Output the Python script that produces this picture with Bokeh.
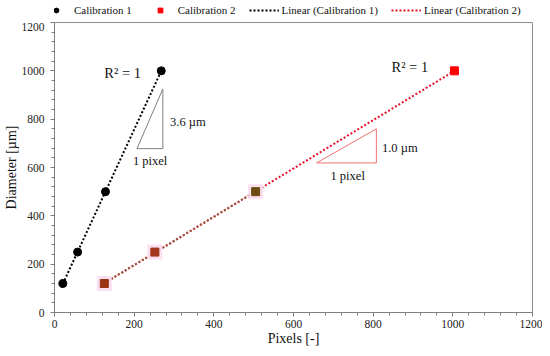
import numpy as np
from bokeh.plotting import figure
from bokeh.layouts import column
from bokeh.models import Range1d, Legend, LegendItem, FixedTicker, ColumnDataSource
from bokeh.core.properties import value
from bokeh.embed import file_html
from bokeh.resources import INLINE

# ---- data ----
cal1_px = [21, 58, 128, 268]
cal1_d = [120, 250, 500, 1000]
cal2_px = [125, 252, 505, 1004]
cal2_d = [120, 250, 500, 1000]
cal2_colors = ["#9A3414", "#A3361C", "#6E4B12", "#FF0000"]

x_ticks = [0, 200, 400, 600, 800, 1000, 1200]
y_ticks = [0, 200, 400, 600, 800, 1000, 1200]

tri1_x = [207, 272, 272]
tri1_y = [678, 925, 678]
tri2_x = [658, 808, 808]
tri2_y = [619, 760, 619]

series_names = ["Calibration 1", "Calibration 2", "Linear (Calibration 1)", "Linear (Calibration 2)"]

FONT = "Liberation Serif"

p = figure(width=542, height=326, output_backend="svg",
           toolbar_location=None, x_range=Range1d(0, 1200), y_range=Range1d(0, 1200),
           min_border_left=53, min_border_right=10, min_border_top=0, min_border_bottom=35)
p.outline_line_color = "#8c8c8c"
p.outline_line_width = 1
p.grid.visible = False
p.background_fill_color = "white"

for ax, tk in ((p.xaxis[0], x_ticks), (p.yaxis[0], y_ticks)):
    ax.ticker = FixedTicker(ticks=tk, minor_ticks=list(np.arange(0, 1201, 40)))
    ax.axis_line_color = "#7f7f7f"
    ax.major_tick_line_color = "#7f7f7f"
    ax.minor_tick_line_color = "#7f7f7f"
    ax.major_tick_in = 0
    ax.major_tick_out = 4
    ax.minor_tick_in = 0
    ax.minor_tick_out = 3
    ax.major_label_text_font = FONT
    ax.major_label_text_font_size = "11.5px"
    ax.major_label_text_color = "#222222"
    ax.axis_label_text_font = FONT
    ax.axis_label_text_font_style = "normal"
    ax.axis_label_text_font_size = "14px"
    ax.axis_label_text_color = "#111111"

p.xaxis.axis_label = "Pixels [-]"
p.yaxis.axis_label = "Diameter [µm]"
p.xaxis.major_label_standoff = 3
p.yaxis.major_label_standoff = 6
p.xaxis.axis_label_standoff = 0
p.yaxis.axis_label_standoff = 0

# trendlines from a linear fit of the data
k1, b1 = np.polyfit(cal1_px, cal1_d, 1)
k2, b2 = np.polyfit(cal2_px, cal2_d, 1)
t1x = [min(cal1_px), max(cal1_px)]
t2x = [min(cal2_px), max(cal2_px)]
p.line(t1x, [k1 * v + b1 for v in t1x], line_color="black", line_width=2, line_dash="2 2")
p.line(t2x, [k2 * v + b2 for v in t2x], line_color="#E8102A", line_width=2, line_dash="2 2")
seg = [cal2_px[0], cal2_px[2]]
p.line(seg, [k2 * v + b2 for v in seg], line_color="#9A5A40", line_width=2, line_dash="2 2")

# pink halos behind calibration 2 points
p.scatter(cal2_px[:3], cal2_d[:3], marker="square", size=15, fill_color="#FBDDF0",
          line_color=None, fill_alpha=0.9)
p.scatter(cal1_px, cal1_d, marker="circle", size=8, fill_color="black", line_color="black")
src2 = ColumnDataSource(dict(x=cal2_px, y=cal2_d, c=cal2_colors))
p.scatter("x", "y", source=src2, marker="square", size=8, fill_color="c", line_color="c")

# triangles
p.patch(tri1_x + [tri1_x[0]], tri1_y + [tri1_y[0]], fill_color=None, line_color="#7f7f7f", line_width=1)
p.patch(tri2_x + [tri2_x[0]], tri2_y + [tri2_y[0]], fill_color=None, line_color="#F07070", line_width=1)

p.text(x=[171, 892], y=[990, 1017], text=["R² = 1", "R² = 1"], text_font=value(FONT),
       text_font_size="14.5px", text_color="#111111", text_align="center", text_baseline="middle")
p.text(x=[290, 822], y=[787, 681], text=["3.6 µm", "1.0 µm"], text_font=value(FONT),
       text_font_size="12.5px", text_color="#111111", text_align="left", text_baseline="middle")
p.text(x=[240, 736], y=[628, 565], text=["1 pixel", "1 pixel"], text_font=value(FONT),
       text_font_size="12.5px", text_color="#111111", text_align="center", text_baseline="middle")

# ---- legend strip (separate figure above the plot) ----
lg = figure(width=542, height=22, output_backend="svg", toolbar_location=None,
            x_range=Range1d(0, 1), y_range=Range1d(0, 1),
            x_axis_location=None, y_axis_location=None,
            min_border_left=0, min_border_right=0, min_border_top=0, min_border_bottom=0)
lg.grid.visible = False
lg.outline_line_color = None
# one hidden point each (outside the strip's ranges) so the legend glyphs are drawn
e1 = lg.scatter([-5], [-5], marker="circle", size=8, fill_color="black", line_color="black")
e2 = lg.scatter([-5], [-5], marker="square", size=8, fill_color="#FF0000", line_color="#FF0000")
e3 = lg.line([-5, -4], [-5, -4], line_color="black", line_width=2, line_dash="2 2")
e4 = lg.line([-5, -4], [-5, -4], line_color="#E8102A", line_width=2, line_dash="2 2")

legend = Legend(items=[LegendItem(label=n, renderers=[r]) for n, r in zip(series_names, [e1, e2, e3, e4])],
                orientation="horizontal", location=(-13, 6), border_line_color=None,
                background_fill_alpha=0, padding=0, margin=0, spacing=13, glyph_width=30,
                glyph_height=12, label_standoff=3, label_text_font=FONT, label_text_font_size="11px",
                label_text_color="#111111", label_height=12)
lg.add_layout(legend, "center")

layout = column(lg, p, spacing=0)
open("out.html", "w").write(file_html(layout, INLINE))
